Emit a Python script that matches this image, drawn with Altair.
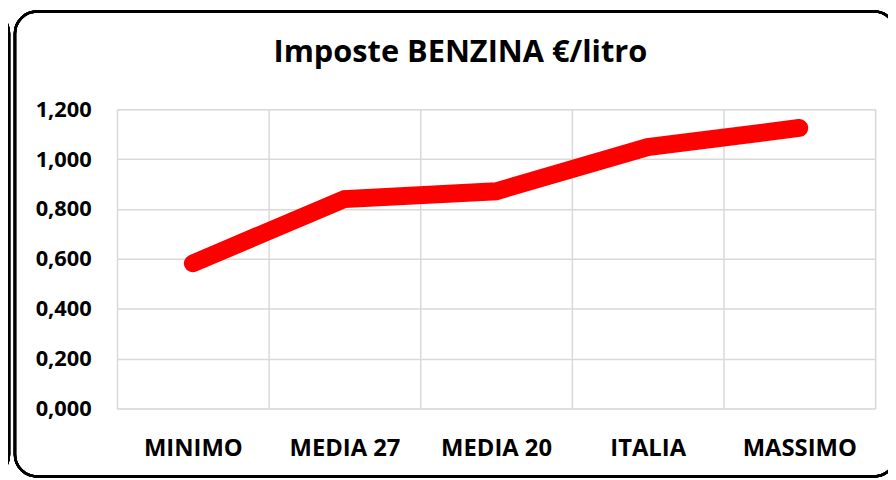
import altair as alt
import pandas as pd

categories = ["MINIMO", "MEDIA 27", "MEDIA 20", "ITALIA", "MASSIMO"]
values = [0.582, 0.840, 0.871, 1.048, 1.125]
y_ticks = [0.0, 0.2, 0.4, 0.6, 0.8, 1.0, 1.2]
title_text = "Imposte BENZINA €/litro"

df = pd.DataFrame({"categoria": categories, "valore": values})

FONT = "Open Sans"

x_enc = alt.X(
    "categoria:N",
    sort=categories,
    title=None,
    scale=alt.Scale(paddingInner=0, paddingOuter=0),
    axis=alt.Axis(
        tickBand="extent",
        grid=True,
        gridColor="#d9d9d9",
        gridWidth=1.5,
        domain=False,
        ticks=False,
        labelAngle=0,
        labelFont=FONT,
        labelFontWeight="bold",
        labelFontSize=24,
        labelColor="#000000",
        labelPadding=28,
    ),
)
y_enc = alt.Y(
    "valore:Q",
    title=None,
    scale=alt.Scale(domain=[0, 1.2], nice=False),
    axis=alt.Axis(
        values=y_ticks,
        labelExpr="replace(format(datum.value, '.3f'), '.', ',')",
        grid=True,
        gridColor="#d9d9d9",
        gridWidth=1.5,
        domain=False,
        ticks=False,
        labelFont=FONT,
        labelFontWeight="bold",
        labelFontSize=22,
        labelColor="#000000",
        labelPadding=26,
    ),
)

line = alt.Chart(df).mark_line(
    color="#ff0000", strokeWidth=18, strokeCap="round", strokeJoin="miter"
).encode(x=x_enc, y=y_enc)

# decorative chart borders
border = alt.Chart(df).mark_rect(
    fill="transparent", stroke="#000000", strokeWidth=2.5, cornerRadius=22
).encode(
    x=alt.value(-103), x2=alt.value(786), y=alt.value(-98.5), y2=alt.value(370.5)
)
prev_border = alt.Chart(df).mark_rect(
    fill="transparent", stroke="#000000", strokeWidth=2.5, cornerRadius=22
).encode(
    x=alt.value(-300), x2=alt.value(-109), y=alt.value(-98.5), y2=alt.value(370.5)
)

chart = alt.layer(border, prev_border, line).properties(
    width=765,
    height=302,
    autosize=alt.AutoSizeParams(type="none"),
    padding={"left": 110, "top": 100, "right": 13, "bottom": 70},
    title=alt.TitleParams(
        title_text,
        font=FONT,
        fontWeight="bold",
        fontSize=31,
        color="#000000",
        anchor="middle",
        frame="group",
        dx=-36,
        offset=-59,
    ),
).configure_view(stroke="#d9d9d9", strokeWidth=1.5).configure(background="white")

chart.save("out.html", embed_options={"renderer": "svg", "actions": False})
